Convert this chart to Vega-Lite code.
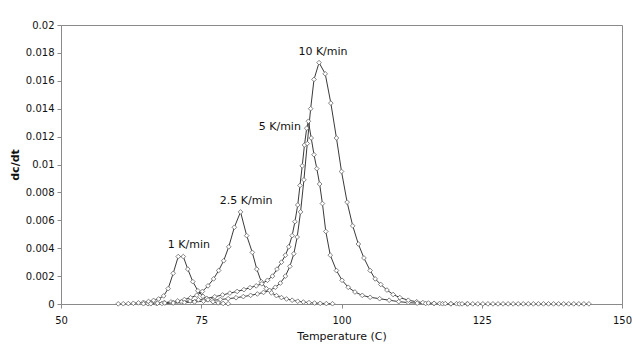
{
  "$schema": "https://vega.github.io/schema/vega-lite/v6.json",
  "width": 561,
  "height": 279,
  "autosize": "none",
  "padding": {"left": 61, "top": 25, "right": 18, "bottom": 50},
  "background": "white",
  "datasets": {
    "curves": [
      {"s": "1", "T": 60.2, "v": 0.00001}, {"s": "1", "T": 61.1, "v": 0.00002}, {"s": "1", "T": 62.0, "v": 0.00003}, {"s": "1", "T": 62.9, "v": 0.00005},
      {"s": "1", "T": 63.8, "v": 0.00008}, {"s": "1", "T": 64.7, "v": 0.00012}, {"s": "1", "T": 65.6, "v": 0.00018}, {"s": "1", "T": 66.5, "v": 0.00026},
      {"s": "1", "T": 67.4, "v": 0.00036}, {"s": "1", "T": 68.3, "v": 0.00058}, {"s": "1", "T": 69.1, "v": 0.0011}, {"s": "1", "T": 70.0, "v": 0.0022},
      {"s": "1", "T": 70.9, "v": 0.0034}, {"s": "1", "T": 71.8, "v": 0.0034}, {"s": "1", "T": 72.6, "v": 0.0025}, {"s": "1", "T": 73.5, "v": 0.0016},
      {"s": "1", "T": 74.4, "v": 0.00095}, {"s": "1", "T": 75.3, "v": 0.00055}, {"s": "1", "T": 76.2, "v": 0.0003}, {"s": "1", "T": 77.1, "v": 0.00016},
      {"s": "1", "T": 78.0, "v": 0.00008}, {"s": "1", "T": 78.9, "v": 0.00004}, {"s": "1", "T": 79.8, "v": 0.00002},

      {"s": "2.5", "T": 64.7, "v": 0.00002}, {"s": "2.5", "T": 66.0, "v": 0.00004}, {"s": "2.5", "T": 67.2, "v": 0.00006}, {"s": "2.5", "T": 68.4, "v": 0.0001},
      {"s": "2.5", "T": 69.6, "v": 0.00015}, {"s": "2.5", "T": 70.8, "v": 0.00022}, {"s": "2.5", "T": 72.0, "v": 0.00032}, {"s": "2.5", "T": 73.1, "v": 0.00045},
      {"s": "2.5", "T": 74.2, "v": 0.00063}, {"s": "2.5", "T": 75.2, "v": 0.0009}, {"s": "2.5", "T": 76.2, "v": 0.0013}, {"s": "2.5", "T": 77.2, "v": 0.0018},
      {"s": "2.5", "T": 78.1, "v": 0.0024}, {"s": "2.5", "T": 79.0, "v": 0.0031}, {"s": "2.5", "T": 79.9, "v": 0.0041}, {"s": "2.5", "T": 80.9, "v": 0.0055},
      {"s": "2.5", "T": 82.0, "v": 0.0066}, {"s": "2.5", "T": 83.1, "v": 0.0049}, {"s": "2.5", "T": 84.1, "v": 0.0037}, {"s": "2.5", "T": 84.9, "v": 0.0025},
      {"s": "2.5", "T": 85.7, "v": 0.0016}, {"s": "2.5", "T": 86.6, "v": 0.0011}, {"s": "2.5", "T": 87.5, "v": 0.0008}, {"s": "2.5", "T": 88.4, "v": 0.0006},
      {"s": "2.5", "T": 89.3, "v": 0.00046}, {"s": "2.5", "T": 90.2, "v": 0.00036}, {"s": "2.5", "T": 91.2, "v": 0.00027}, {"s": "2.5", "T": 92.2, "v": 0.0002},
      {"s": "2.5", "T": 93.2, "v": 0.00014}, {"s": "2.5", "T": 94.2, "v": 0.0001}, {"s": "2.5", "T": 95.2, "v": 0.00007}, {"s": "2.5", "T": 96.2, "v": 0.00005},
      {"s": "2.5", "T": 97.3, "v": 0.00003}, {"s": "2.5", "T": 98.4, "v": 0.00002},

      {"s": "5", "T": 65.5, "v": 0.00002}, {"s": "5", "T": 67.0, "v": 0.00004}, {"s": "5", "T": 68.5, "v": 0.00007}, {"s": "5", "T": 70.0, "v": 0.0001},
      {"s": "5", "T": 71.5, "v": 0.00015}, {"s": "5", "T": 73.0, "v": 0.00022}, {"s": "5", "T": 74.5, "v": 0.0003}, {"s": "5", "T": 76.0, "v": 0.0004},
      {"s": "5", "T": 77.4, "v": 0.00052}, {"s": "5", "T": 78.8, "v": 0.00065}, {"s": "5", "T": 80.1, "v": 0.00078}, {"s": "5", "T": 81.4, "v": 0.0009},
      {"s": "5", "T": 82.6, "v": 0.00103}, {"s": "5", "T": 83.7, "v": 0.00117}, {"s": "5", "T": 84.8, "v": 0.0013}, {"s": "5", "T": 85.8, "v": 0.00145},
      {"s": "5", "T": 86.8, "v": 0.0017}, {"s": "5", "T": 87.7, "v": 0.002}, {"s": "5", "T": 88.5, "v": 0.0025}, {"s": "5", "T": 89.3, "v": 0.003},
      {"s": "5", "T": 90.0, "v": 0.0035}, {"s": "5", "T": 90.6, "v": 0.0041}, {"s": "5", "T": 91.2, "v": 0.0049}, {"s": "5", "T": 91.7, "v": 0.0059},
      {"s": "5", "T": 92.2, "v": 0.0071}, {"s": "5", "T": 92.6, "v": 0.0085}, {"s": "5", "T": 93.0, "v": 0.0099}, {"s": "5", "T": 93.4, "v": 0.0114},
      {"s": "5", "T": 93.8, "v": 0.0126}, {"s": "5", "T": 94.1, "v": 0.0131}, {"s": "5", "T": 94.6, "v": 0.0119}, {"s": "5", "T": 95.1, "v": 0.0107},
      {"s": "5", "T": 95.6, "v": 0.0097}, {"s": "5", "T": 96.1, "v": 0.0086}, {"s": "5", "T": 96.6, "v": 0.0072}, {"s": "5", "T": 97.2, "v": 0.0052},
      {"s": "5", "T": 98.0, "v": 0.0035}, {"s": "5", "T": 99.1, "v": 0.0024}, {"s": "5", "T": 100.1, "v": 0.0017}, {"s": "5", "T": 101.2, "v": 0.0012},
      {"s": "5", "T": 102.4, "v": 0.00086}, {"s": "5", "T": 103.7, "v": 0.00062}, {"s": "5", "T": 105.1, "v": 0.00048}, {"s": "5", "T": 106.8, "v": 0.00038},
      {"s": "5", "T": 108.5, "v": 0.00027}, {"s": "5", "T": 110.2, "v": 0.00017}, {"s": "5", "T": 111.9, "v": 0.0001}, {"s": "5", "T": 113.5, "v": 0.00006},
      {"s": "5", "T": 115.0, "v": 0.00004}, {"s": "5", "T": 116.5, "v": 0.00003}, {"s": "5", "T": 118.0, "v": 0.00002}, {"s": "5", "T": 119.5, "v": 0.00001},
      {"s": "5", "T": 121.0, "v": 0.00001}, {"s": "5", "T": 122.4, "v": 0.00001},

      {"s": "10", "T": 66.0, "v": 0.00002}, {"s": "10", "T": 68.0, "v": 0.00004}, {"s": "10", "T": 70.0, "v": 0.00007}, {"s": "10", "T": 72.0, "v": 0.0001},
      {"s": "10", "T": 73.8, "v": 0.00015}, {"s": "10", "T": 75.4, "v": 0.0002}, {"s": "10", "T": 76.9, "v": 0.00026}, {"s": "10", "T": 78.4, "v": 0.00032},
      {"s": "10", "T": 79.8, "v": 0.00038}, {"s": "10", "T": 81.2, "v": 0.00045}, {"s": "10", "T": 82.5, "v": 0.00053}, {"s": "10", "T": 83.8, "v": 0.00062},
      {"s": "10", "T": 85.0, "v": 0.00072}, {"s": "10", "T": 86.1, "v": 0.00083}, {"s": "10", "T": 87.2, "v": 0.00097}, {"s": "10", "T": 88.2, "v": 0.0012},
      {"s": "10", "T": 89.1, "v": 0.0015}, {"s": "10", "T": 90.0, "v": 0.002}, {"s": "10", "T": 90.8, "v": 0.0027}, {"s": "10", "T": 91.5, "v": 0.0036},
      {"s": "10", "T": 92.1, "v": 0.0048}, {"s": "10", "T": 92.7, "v": 0.0066}, {"s": "10", "T": 93.3, "v": 0.0089}, {"s": "10", "T": 93.9, "v": 0.0115},
      {"s": "10", "T": 94.5, "v": 0.014}, {"s": "10", "T": 95.1, "v": 0.0161}, {"s": "10", "T": 96.0, "v": 0.0173}, {"s": "10", "T": 97.1, "v": 0.0165},
      {"s": "10", "T": 98.1, "v": 0.0144}, {"s": "10", "T": 99.1, "v": 0.0119}, {"s": "10", "T": 100.0, "v": 0.0095}, {"s": "10", "T": 101.0, "v": 0.0073},
      {"s": "10", "T": 102.0, "v": 0.0056}, {"s": "10", "T": 103.0, "v": 0.0043}, {"s": "10", "T": 104.0, "v": 0.0033}, {"s": "10", "T": 105.1, "v": 0.0024},
      {"s": "10", "T": 106.0, "v": 0.0018}, {"s": "10", "T": 107.0, "v": 0.0014}, {"s": "10", "T": 108.1, "v": 0.001}, {"s": "10", "T": 109.2, "v": 0.00068},
      {"s": "10", "T": 110.4, "v": 0.00046}, {"s": "10", "T": 111.9, "v": 0.00027}, {"s": "10", "T": 113.4, "v": 0.00016}, {"s": "10", "T": 114.5, "v": 0.0001},
      {"s": "10", "T": 115.5, "v": 0.00007}, {"s": "10", "T": 116.5, "v": 0.00005}, {"s": "10", "T": 117.5, "v": 0.00004}, {"s": "10", "T": 118.5, "v": 0.00003},
      {"s": "10", "T": 119.5, "v": 0.00002}, {"s": "10", "T": 120.5, "v": 0.00002}, {"s": "10", "T": 121.5, "v": 0.00001}, {"s": "10", "T": 122.5, "v": 0.00001},
      {"s": "10", "T": 123.4, "v": 0.00001}, {"s": "10", "T": 124.3, "v": 0.00001}, {"s": "10", "T": 125.2, "v": 0.00001}, {"s": "10", "T": 126.1, "v": 0.00001},
      {"s": "10", "T": 127.0, "v": 0.00001}, {"s": "10", "T": 127.9, "v": 0.00001}, {"s": "10", "T": 128.8, "v": 0.00001}, {"s": "10", "T": 129.7, "v": 0.00001},
      {"s": "10", "T": 130.6, "v": 0.00001}, {"s": "10", "T": 131.5, "v": 0.00001}, {"s": "10", "T": 132.4, "v": 0.00001}, {"s": "10", "T": 133.3, "v": 0.00001},
      {"s": "10", "T": 134.2, "v": 0.00001}, {"s": "10", "T": 135.1, "v": 0.00001}, {"s": "10", "T": 136.0, "v": 0.00001}, {"s": "10", "T": 136.9, "v": 0.00001},
      {"s": "10", "T": 137.8, "v": 0.00001}, {"s": "10", "T": 138.7, "v": 0.00001}, {"s": "10", "T": 139.6, "v": 0.00001}, {"s": "10", "T": 140.5, "v": 0.00001},
      {"s": "10", "T": 141.4, "v": 0.00001}, {"s": "10", "T": 142.3, "v": 0.00001}, {"s": "10", "T": 143.2, "v": 0.00001}, {"s": "10", "T": 144.1, "v": 0.00001}
    ],
    "labels": [
      {"label": "1 K/min", "T": 72.8, "v": 0.00425},
      {"label": "2.5 K/min", "T": 83.0, "v": 0.00737},
      {"label": "5 K/min", "T": 89.0, "v": 0.01268},
      {"label": "10 K/min", "T": 96.7, "v": 0.01806}
    ]
  },
  "config": {
    "font": "DejaVu Sans",
    "view": {"stroke": "#8a8a8a", "strokeWidth": 1},
    "axis": {
      "grid": false,
      "domainColor": "#8a8a8a",
      "tickColor": "#8a8a8a",
      "tickSize": 4,
      "labelFont": "DejaVu Sans",
      "labelFontSize": 10,
      "labelColor": "#111",
      "labelOverlap": false,
      "labelFlush": false,
      "labelBound": false,
      "titleFont": "DejaVu Sans",
      "titleFontSize": 11,
      "titleColor": "#111"
    }
  },
  "encoding": {
    "x": {
      "field": "T", "type": "quantitative",
      "scale": {"domain": [50, 150], "nice": false},
      "axis": {"values": [50, 75, 100, 125, 150], "title": "Temperature (C)", "titleFontWeight": "normal", "labelPadding": 7, "titlePadding": 5}
    },
    "y": {
      "field": "v", "type": "quantitative",
      "scale": {"domain": [0, 0.02], "nice": false},
      "axis": {"values": [0, 0.002, 0.004, 0.006, 0.008, 0.01, 0.012, 0.014, 0.016, 0.018, 0.02], "format": "~g", "title": "dc/dt", "titleFontWeight": "bold", "labelPadding": 3, "titlePadding": 5}
    }
  },
  "layer": [
    {
      "data": {"name": "curves"},
      "mark": {
        "type": "line",
        "color": "#222",
        "strokeWidth": 0.9,
        "point": {"shape": "diamond", "filled": true, "fill": "white", "stroke": "#666", "strokeWidth": 0.8, "size": 22}
      },
      "encoding": {
        "detail": {"field": "s"},
        "order": {"field": "T", "type": "quantitative"}
      }
    },
    {
      "data": {"name": "labels"},
      "mark": {"type": "text", "font": "DejaVu Sans", "fontSize": 11, "color": "#111", "baseline": "middle", "align": "center"},
      "encoding": {
        "text": {"field": "label"}
      }
    }
  ]
}
